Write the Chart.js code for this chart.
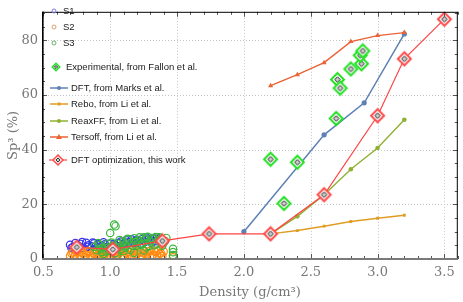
<!DOCTYPE html>
<html>
<head>
<meta charset="UTF-8">
<title>sp3 vs density</title>
<script src="https://cdn.jsdelivr.net/npm/chart.js@4.4.1/dist/chart.umd.min.js"></script>
<style>
  body { margin: 0; background: #fff; }
</style>
</head>
<body>
<canvas id="sp3Chart" width="463" height="302"></canvas>
<script>
// values (density in g/cm3, sp3 in %)
const s1X = [0.70,0.72,0.74,0.76,0.78,0.80,0.82,0.84,0.86,0.88,0.90,0.92,0.94,0.96,0.98,1.00,1.02,1.04,1.06,1.08,1.10,1.12,1.14,1.16,1.18,1.20,1.22,1.24,1.26,1.28,1.30,1.32,1.34,1.36,1.38,
             0.71,0.75,0.79,0.83,0.87,0.91,0.95,0.99,1.03,1.07,1.11,1.15,1.19,1.23,1.27,1.31,1.35,1.39];
const s1Y = [5.2,4.4,5.8,4.9,5.5,4.1,5.9,5.0,4.6,5.7,4.3,5.1,4.8,5.4,4.5,5.6,4.2,5.0,5.8,6.4,5.3,6.9,6.1,7.2,5.9,7.0,6.6,7.4,6.2,7.1,6.8,7.6,6.5,7.3,7.0,
             4.0,4.2,6.2,4.4,6.0,5.4,6.1,3.9,5.5,4.6,6.0,5.2,6.7,5.7,7.8,6.0,7.9,6.4];

const s2X = [0.70,0.72,0.74,0.76,0.78,0.80,0.82,0.84,0.86,0.88,0.90,0.92,0.94,0.96,0.98,1.00,1.02,1.04,1.06,1.08,1.10,1.12,1.14,1.16,1.18,1.20,1.22,1.24,1.26,1.28,1.30,1.32,1.34,1.36,1.38,1.40,1.47,
             0.71,0.73,0.75,0.77,0.79,0.81,0.83,0.85,0.87,0.89,0.91,0.93,0.95,0.97,0.99,1.01,1.03,1.05,1.07,1.09,1.11,1.13,1.15,1.17,1.19,1.21,1.23,1.25,1.27,1.29,1.31,1.33,1.35,1.37,1.39,1.47];
const s2Y = [1.2,2.4,1.6,2.8,1.0,2.1,1.5,2.6,0.8,1.9,2.5,1.1,2.2,1.7,2.9,1.3,0.7,2.3,1.6,2.7,1.0,2.0,2.6,1.4,3.0,1.8,2.4,1.1,2.8,2.0,3.1,1.5,2.6,3.2,2.1,2.7,0.6,
             2.0,0.9,2.6,1.4,2.2,0.7,2.9,1.2,2.3,1.0,1.7,2.8,0.9,2.4,1.2,2.6,1.9,0.9,2.5,1.3,2.9,1.5,0.8,2.2,1.2,2.7,0.8,2.1,1.5,2.8,1.0,2.9,1.3,1.9,1.1,1.2];

const s3X = [0.88,0.90,0.92,0.94,0.96,0.98,1.00,1.00,1.02,1.03,1.04,1.04,1.06,1.08,1.10,1.12,1.14,1.15,1.16,1.18,1.20,1.21,1.22,1.24,1.26,1.27,1.28,1.30,1.32,1.33,1.34,1.36,1.38,1.40,1.42,1.47,1.47,1.47,0.95,1.05,1.10,1.18,1.25,
             0.91,0.93,0.97,0.99,1.01,1.05,1.07,1.09,1.11,1.13,1.17,1.19,1.23,1.25,1.29,1.31,1.35,1.37,1.39,1.41];
const s3Y = [4.5,3.2,5.1,2.6,4.0,5.6,3.0,9.5,4.8,12.6,2.2,12.0,5.6,3.6,6.3,4.6,7.1,3.4,6.0,7.6,4.9,6.8,7.9,5.5,7.2,4.2,8.1,6.4,7.5,5.0,8.0,6.8,7.4,6.0,7.7,3.7,2.5,1.4,1.8,1.5,2.9,2.3,3.1,
             5.8,3.9,2.8,4.4,6.0,3.9,6.9,5.0,4.1,7.4,4.9,6.3,5.1,7.9,4.8,7.7,5.6,7.9,4.9,6.6];

const fallonX = [2.2,2.3,2.4,2.69,2.70,2.72,2.8,2.88,2.87,2.89];
const fallonY = [36.5,20.3,35.4,51.4,65.6,62.5,69.5,71.4,74.5,76.1];

const marksX = [2.0,2.6,2.9,3.2];
const marksY = [10.0,45.4,57.1,82.3];

const reboX = [2.2,2.4,2.6,2.8,3.0,3.2];
const reboY = [9.2,10.4,12.0,13.7,14.9,16.0];

const reaxX = [2.2,2.4,2.6,2.8,3.0,3.2];
const reaxY = [9.2,15.6,23.5,32.8,40.6,50.9];

const tersoffX = [2.2,2.4,2.6,2.8,3.0,3.2];
const tersoffY = [63.4,67.4,71.8,79.5,81.7,82.8];

const optX = [0.75,1.02,1.39,1.74,2.2,2.6,3.0,3.2,3.5];
const optY = [4.3,3.5,6.6,9.2,9.2,23.5,52.4,73.2,87.7];

const xTicks = [0.5,1.0,1.5,2.0,2.5,3.0,3.5];
const yTicks = [0,20,40,60,80];

const pts = (xs, ys) => xs.map((v, i) => ({x: v, y: ys[i]}));

// diamond marker with a small dark diamond inside
function diamondImage(outer, color, lw) {
    const size = Math.ceil(outer * 2 + lw + 2);
    const c = document.createElement('canvas');
    c.width = c.height = size;
    const g = c.getContext('2d');
    const m = size / 2;
    const path = (r) => {
        g.beginPath();
        g.moveTo(m, m - r); g.lineTo(m + r, m); g.lineTo(m, m + r); g.lineTo(m - r, m);
        g.closePath();
    };
    path(outer);
    g.fillStyle = '#fff'; g.fill();
    g.lineWidth = lw; g.strokeStyle = color; g.stroke();
    path(Math.max(1.6, outer * 0.42));
    g.fillStyle = '#cfcfcf'; g.fill();
    g.lineWidth = 1; g.strokeStyle = '#222'; g.stroke();
    return c;
}

const redDiamond = diamondImage(6.5, '#ff4a4a', 2);
const greenDiamond = diamondImage(6.5, '#22e022', 2);
const redDiamondSmall = diamondImage(5, '#ff4a4a', 1.5);
const greenDiamondSmall = diamondImage(3.8, '#22e022', 1.5);

const C_MARKS = '#5e81b5', C_REBO = '#e19c24', C_REAX = '#8fb032', C_TERS = '#eb6235', C_OPT = '#ff4444';

// dotted grid under the data, ticks and frame over it
const gridPlugin = {
    id: 'grid',
    beforeDatasetsDraw(chart) {
        const {ctx, chartArea: a, scales: {x, y}} = chart;
        ctx.save();
        ctx.strokeStyle = '#c4c4c4';
        ctx.lineWidth = 1;
        ctx.setLineDash([1, 2]);
        xTicks.forEach(v => {
            const px = Math.round(x.getPixelForValue(v)) + 0.5;
            ctx.beginPath(); ctx.moveTo(px, a.top); ctx.lineTo(px, a.bottom); ctx.stroke();
        });
        yTicks.forEach(v => {
            if (v === 0) return;
            const py = Math.round(y.getPixelForValue(v)) + 0.5;
            ctx.beginPath(); ctx.moveTo(a.left, py); ctx.lineTo(a.right, py); ctx.stroke();
        });
        ctx.restore();
    },
    afterDatasetsDraw(chart) {
        const {ctx, chartArea: a, scales: {x, y}} = chart;
        ctx.save();
        ctx.strokeStyle = '#555';
        ctx.lineWidth = 1;
        for (let i = 5; i <= 36; i++) {
            const px = Math.round(x.getPixelForValue(i / 10)) + 0.5;
            const len = i % 5 === 0 ? 5 : 3;
            ctx.beginPath();
            ctx.moveTo(px, a.bottom); ctx.lineTo(px, a.bottom - len);
            ctx.moveTo(px, a.top); ctx.lineTo(px, a.top + len);
            ctx.stroke();
        }
        for (let v = 0; v <= 90; v += 5) {
            const py = Math.round(y.getPixelForValue(v)) + 0.5;
            const len = v % 20 === 0 ? 5 : 3;
            ctx.beginPath();
            ctx.moveTo(a.left, py); ctx.lineTo(a.left + len, py);
            ctx.moveTo(a.right, py); ctx.lineTo(a.right - len, py);
            ctx.stroke();
        }
        ctx.strokeStyle = '#000';
        ctx.lineWidth = 1;
        ctx.beginPath();
        ctx.moveTo(a.left, a.top + 0.5); ctx.lineTo(a.right, a.top + 0.5);
        ctx.moveTo(a.right - 0.5, a.top); ctx.lineTo(a.right - 0.5, a.bottom);
        ctx.stroke();
        ctx.lineWidth = 1.6;
        ctx.beginPath();
        ctx.moveTo(a.left + 0.8, a.top); ctx.lineTo(a.left + 0.8, a.bottom);
        ctx.stroke();
        ctx.strokeStyle = '#7a7a7a';
        ctx.lineWidth = 2;
        ctx.beginPath();
        ctx.moveTo(a.left, a.bottom); ctx.lineTo(a.right, a.bottom);
        ctx.stroke();
        ctx.restore();
    }
};

// legend in the upper left corner of the plot
const legendPlugin = {
    id: 'cornerLegend',
    afterDraw(chart) {
        const ctx = chart.ctx;
        ctx.save();
        ctx.font = '9.5px "Liberation Sans", Arial, sans-serif';
        ctx.textBaseline = 'middle';

        const circle = (cx, cy, r, stroke, fill) => {
            ctx.beginPath(); ctx.arc(cx, cy, r, 0, Math.PI * 2);
            if (fill) { ctx.fillStyle = fill; ctx.fill(); }
            if (stroke) { ctx.strokeStyle = stroke; ctx.lineWidth = 1; ctx.stroke(); }
        };
        const text = (t, tx, ty) => { ctx.fillStyle = '#1a1a1a'; ctx.fillText(t, tx, ty); };

        [['S1', '#7a7ae0', 11], ['S2', '#d8a070', 27], ['S3', '#6aaf6a', 43]].forEach(([t, c, yy]) => {
            circle(54, yy, 2, c);
            text(t, 63, yy);
        });

        ctx.drawImage(greenDiamondSmall, 56 - greenDiamondSmall.width / 2, 67 - greenDiamondSmall.height / 2);
        text('Experimental, from Fallon et al.', 66, 67);

        const lineItem = (yy, color, label, marker) => {
            ctx.strokeStyle = color; ctx.lineWidth = 1.5;
            ctx.beginPath(); ctx.moveTo(50, yy); ctx.lineTo(68, yy); ctx.stroke();
            ctx.fillStyle = color;
            if (marker === 'circle') circle(59, yy, 2, null, color);
            if (marker === 'rect') ctx.fillRect(57.5, yy - 1.5, 3, 3);
            if (marker === 'tri') {
                ctx.beginPath(); ctx.moveTo(59, yy - 3); ctx.lineTo(62, yy + 2); ctx.lineTo(56, yy + 2);
                ctx.closePath(); ctx.fill();
            }
            text(label, 71, yy);
        };
        lineItem(88, C_MARKS, 'DFT, from Marks et al.', 'circle');
        lineItem(104, C_REBO, 'Rebo, from Li et al.', 'rect');
        lineItem(121, C_REAX, 'ReaxFF, from Li et al.', 'circle');
        lineItem(137, C_TERS, 'Tersoff, from Li et al.', 'tri');

        ctx.strokeStyle = C_OPT; ctx.lineWidth = 1.2;
        ctx.beginPath(); ctx.moveTo(49, 160); ctx.lineTo(67, 160); ctx.stroke();
        ctx.drawImage(redDiamondSmall, 58 - redDiamondSmall.width / 2, 160 - redDiamondSmall.height / 2);
        text('DFT optimization, this work', 71, 160);
        ctx.restore();
    }
};

const scatterStyle = (color) => ({
    showLine: false, pointStyle: 'circle', pointRadius: 3.7, borderWidth: 1.2,
    pointBorderColor: color, pointBackgroundColor: 'rgba(0,0,0,0)', borderColor: color
});

const tickFont = {family: '"DejaVu Serif", serif', size: 13};
const axisGray = '#777';

new Chart(document.getElementById('sp3Chart'), {
    type: 'scatter',
    data: {
        datasets: [
            Object.assign({label: 'S1', data: pts(s1X, s1Y), order: 12}, scatterStyle('#3434ee')),
            Object.assign({label: 'S2', data: pts(s2X, s2Y), order: 11}, scatterStyle('#ff8a10')),
            Object.assign({label: 'S3', data: pts(s3X, s3Y), order: 10}, scatterStyle('#3cb83c')),
            {
                label: 'Rebo, from Li et al.', data: pts(reboX, reboY), order: 8, showLine: true,
                borderColor: C_REBO, borderWidth: 1.4, pointStyle: 'rect', pointRadius: 2,
                pointBackgroundColor: C_REBO, pointBorderWidth: 0
            },
            {
                label: 'ReaxFF, from Li et al.', data: pts(reaxX, reaxY), order: 7, showLine: true,
                borderColor: C_REAX, borderWidth: 1.4, pointStyle: 'circle', pointRadius: 2.3,
                pointBackgroundColor: C_REAX, pointBorderWidth: 0
            },
            {
                label: 'DFT, from Marks et al.', data: pts(marksX, marksY), order: 6, showLine: true,
                borderColor: C_MARKS, borderWidth: 1.5, pointStyle: 'circle', pointRadius: 2.6,
                pointBackgroundColor: C_MARKS, pointBorderWidth: 0
            },
            {
                label: 'Tersoff, from Li et al.', data: pts(tersoffX, tersoffY), order: 5, showLine: true,
                borderColor: C_TERS, borderWidth: 1.4, pointStyle: 'triangle', pointRadius: 3,
                pointBackgroundColor: C_TERS, pointBorderWidth: 0
            },
            {
                label: 'DFT optimization, this work', data: pts(optX, optY), order: 4, showLine: true,
                borderColor: C_OPT, borderWidth: 1.2, pointStyle: redDiamond
            },
            {
                label: 'Experimental, from Fallon et al.', data: pts(fallonX, fallonY), order: 3,
                showLine: false, pointStyle: greenDiamond
            }
        ]
    },
    options: {
        responsive: false,
        animation: false,
        devicePixelRatio: 1,
        layout: {padding: {top: 0, right: 1, left: 0, bottom: 0}},
        plugins: {legend: {display: false}, tooltip: {enabled: false}},
        scales: {
            x: {
                type: 'linear', min: 0.49, max: 3.6,
                afterBuildTicks: (s) => { s.ticks = xTicks.map(v => ({value: v})); },
                afterFit: (s) => { s.height = 43; },
                grid: {display: false, drawTicks: false},
                border: {display: false},
                ticks: {font: tickFont, color: axisGray, padding: 6, maxRotation: 0,
                        callback: (v) => Number(v).toFixed(1)},
                title: {display: true, text: 'Density (g/cm³)', font: tickFont, color: axisGray,
                        padding: {top: 0, bottom: 2}}
            },
            y: {
                type: 'linear', min: 0, max: 90.4,
                afterBuildTicks: (s) => { s.ticks = yTicks.map(v => ({value: v})); },
                afterFit: (s) => { s.width = 42; },
                grid: {display: false, drawTicks: false},
                border: {display: false},
                ticks: {font: tickFont, color: axisGray, padding: 4},
                title: {display: true, text: 'Sp³ (%)', font: tickFont, color: axisGray,
                        padding: {top: 6, bottom: 0}}
            }
        }
    },
    plugins: [gridPlugin, legendPlugin]
});
</script>
</body>
</html>
